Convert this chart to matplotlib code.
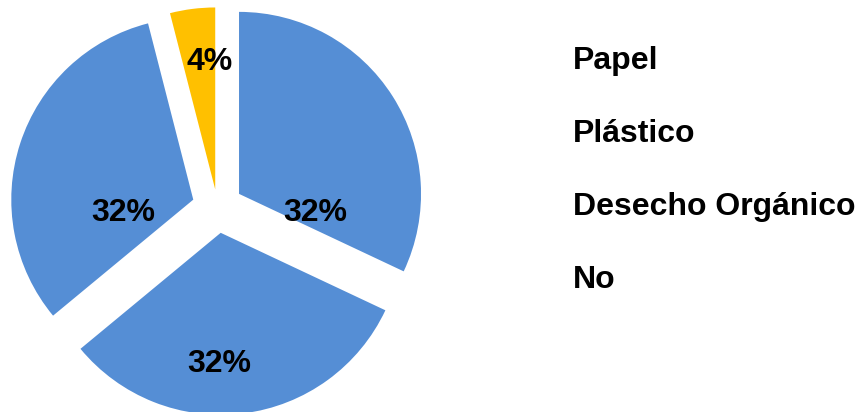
import matplotlib.pyplot as plt
import numpy as np

# datos del grafico
categorias = ["Papel", "Plástico", "Desecho Orgánico", "No"]
porcentajes = [32, 32, 32, 4]
colores = ["#558ED5", "#558ED5", "#558ED5", "#FFC000"]

# posicion de las etiquetas (radio, angulo en grados) respecto al centro
label_polar = [(0.538, -0.9), (0.843, -89.3), (0.519, 180.9), (0.82, 92.9)]

plt.rcParams["font.family"] = ["Liberation Sans", "DejaVu Sans"]

fig = plt.figure(figsize=(8.64, 4.12), dpi=100)
ax = fig.add_axes([0.0095, -0.0117, 0.4845, 1.016])

wedges, _ = ax.pie(
    porcentajes,
    colors=colores,
    startangle=90,
    counterclock=False,
    explode=[0.14, 0.14, 0.14, 0.10],
    radius=1.0,
)

for (r, ang), val in zip(label_polar, porcentajes):
    a = np.deg2rad(ang)
    ax.text(r * np.cos(a), r * np.sin(a), f"{val}%", ha="center",
            va="center_baseline", fontsize=23, fontweight="bold", color="black")

ax.set_xlim(-1.15, 1.15)
ax.set_ylim(-1.15, 1.15)
ax.set_aspect("equal")
ax.axis("off")

# leyenda como texto (sin marcadores)
for i, nombre in enumerate(categorias):
    y_px = 69 + i * 73
    fig.text(573 / 864, 1 - y_px / 412, nombre, ha="left", va="baseline",
             fontsize=23, fontweight="bold", color="black")

fig.savefig("out.png", dpi=100)
